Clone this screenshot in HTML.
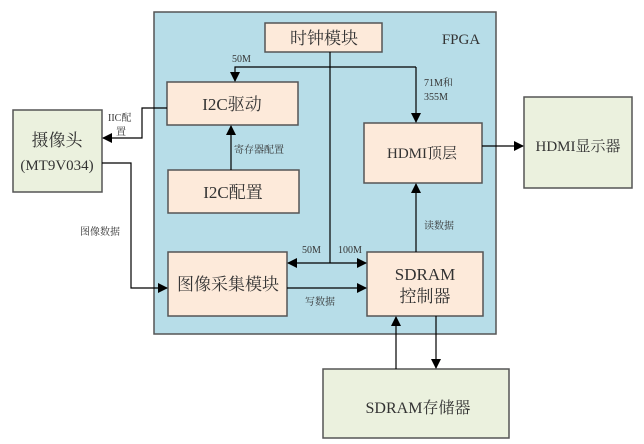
<!DOCTYPE html>
<html><head><meta charset="utf-8"><style>
html,body{margin:0;padding:0;background:#fff;}
svg{display:block;}
text{font-family:"Liberation Serif","Noto Serif CJK SC",serif;fill:#333;}
</style></head><body>
<svg width="644" height="444" viewBox="0 0 644 444" xmlns="http://www.w3.org/2000/svg">
<defs>
<marker id="a" markerWidth="10" markerHeight="10" refX="9" refY="5" orient="auto" markerUnits="userSpaceOnUse">
<path d="M0,0 L10,5 L0,10 z" fill="#000"/></marker>
</defs>
<rect x="154" y="12" width="342" height="322" fill="#b7dde8" stroke="#555" stroke-width="1.5"/>
<g stroke="#555" stroke-width="1.5">
<rect x="265" y="23" width="117" height="29" fill="#fdeada"/>
<rect x="167" y="82" width="131" height="43" fill="#fdeada"/>
<rect x="168" y="170" width="131" height="43" fill="#fdeada"/>
<rect x="364" y="123" width="118" height="60" fill="#fdeada"/>
<rect x="168" y="252" width="119" height="64" fill="#fdeada"/>
<rect x="367" y="252" width="116" height="64" fill="#fdeada"/>
<rect x="13" y="110" width="89" height="82" fill="#ebf1de"/>
<rect x="524" y="97" width="108" height="91" fill="#ebf1de"/>
<rect x="323" y="369" width="186" height="69" fill="#ebf1de"/>
</g>
<g stroke="#000" stroke-width="1.2" fill="none">
<line x1="330" y1="52" x2="330" y2="263"/>
<polyline points="416,67 235,67 235,81" marker-end="url(#a)"/>
<line x1="416" y1="67" x2="416" y2="122" marker-end="url(#a)"/>
<line x1="330" y1="263" x2="288" y2="263" marker-end="url(#a)"/>
<line x1="330" y1="263" x2="366" y2="263" marker-end="url(#a)"/>
<line x1="287" y1="288" x2="366" y2="288" marker-end="url(#a)"/>
<line x1="416" y1="252" x2="416" y2="184" marker-end="url(#a)"/>
<line x1="482" y1="146" x2="523" y2="146" marker-end="url(#a)"/>
<line x1="231" y1="170" x2="231" y2="126" marker-end="url(#a)"/>
<polyline points="167,108 142,108 142,138 103,138" marker-end="url(#a)"/>
<polyline points="102,163 131,163 131,288 167,288" marker-end="url(#a)"/>
<line x1="396" y1="369" x2="396" y2="317" marker-end="url(#a)"/>
<line x1="436" y1="316" x2="436" y2="368" marker-end="url(#a)"/>
</g>
<g text-anchor="middle">
<text x="324" y="44" font-size="17">时钟模块</text>
<text x="232" y="110" font-size="17">I2C驱动</text>
<text x="233" y="198" font-size="17">I2C配置</text>
<text x="422" y="158" font-size="15">HDMI顶层</text>
<text x="228" y="290" font-size="17">图像采集模块</text>
<text x="425" y="280" font-size="17">SDRAM</text>
<text x="425" y="302" font-size="17">控制器</text>
<text x="57" y="146" font-size="17">摄像头</text>
<text x="57" y="170" font-size="15">(MT9V034)</text>
<text x="578" y="151" font-size="15">HDMI显示器</text>
<text x="418" y="413" font-size="16">SDRAM存储器</text>
<text x="461" y="44" font-size="15">FPGA</text>
</g>
<g font-size="10">
<text x="232" y="62">50M</text>
<text x="424" y="86">71M和</text>
<text x="424" y="100">355M</text>
<text x="108" y="121">IIC配</text>
<text x="116" y="135">置</text>
<text x="234" y="153">寄存器配置</text>
<text x="80" y="235">图像数据</text>
<text x="302" y="253">50M</text>
<text x="338" y="253">100M</text>
<text x="305" y="305">写数据</text>
<text x="424" y="229">读数据</text>
</g>
</svg>
</body></html>
